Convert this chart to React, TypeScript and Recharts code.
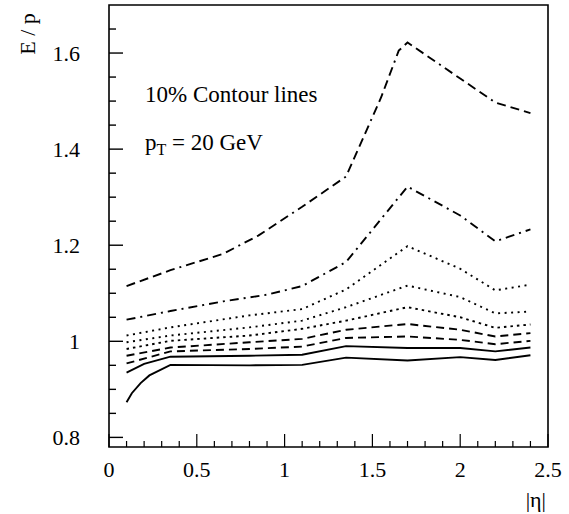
import React from "react";
import { LineChart, Line, XAxis, YAxis, ReferenceArea, Customized } from "recharts";

// ---- data ----
const eta1 = [0.1, 0.35, 0.65, 0.85, 1.1, 1.35, 1.55, 1.65, 1.7, 2.0, 2.2, 2.4];
const ep1 = [1.115, 1.148, 1.182, 1.22, 1.28, 1.343, 1.508, 1.605, 1.622, 1.547, 1.497, 1.475];

const eta2 = [0.1, 0.35, 0.65, 0.9, 1.1, 1.35, 1.7, 2.0, 2.2, 2.4];
const ep2 = [1.045, 1.063, 1.083, 1.097, 1.115, 1.165, 1.322, 1.262, 1.208, 1.233];

const etaMid = [0.1, 0.35, 0.8, 1.1, 1.35, 1.7, 2.0, 2.2, 2.4];
const ep3 = [1.012, 1.029, 1.054, 1.067, 1.108, 1.198, 1.151, 1.106, 1.118];
const ep4 = [0.998, 1.012, 1.029, 1.043, 1.071, 1.116, 1.092, 1.058, 1.062];
const ep5 = [0.984, 1.001, 1.012, 1.026, 1.043, 1.071, 1.05, 1.028, 1.035];
const ep6 = [0.97, 0.987, 0.998, 1.005, 1.024, 1.036, 1.024, 1.01, 1.017];
const ep7 = [0.954, 0.979, 0.984, 0.989, 1.007, 1.01, 1.003, 0.994, 1.001];

const eta8 = [0.1, 0.2, 0.35, 0.8, 1.1, 1.35, 1.7, 2.0, 2.2, 2.4];
const ep8 = [0.935, 0.953, 0.968, 0.97, 0.972, 0.99, 0.986, 0.986, 0.979, 0.987];

const eta9 = [0.1, 0.13, 0.18, 0.23, 0.35, 0.8, 1.1, 1.35, 1.7, 2.0, 2.2, 2.4];
const ep9 = [0.873, 0.892, 0.913, 0.929, 0.951, 0.95, 0.951, 0.966, 0.96, 0.967, 0.961, 0.971];

const xTicks = [0, 0.1, 0.2, 0.3, 0.4, 0.5, 0.6, 0.7, 0.8, 0.9, 1.0, 1.1, 1.2, 1.3, 1.4, 1.5, 1.6, 1.7, 1.8, 1.9, 2.0, 2.1, 2.2, 2.3, 2.4, 2.5];
const xMajor = [0, 0.5, 1, 1.5, 2, 2.5];
const xLabels = ["0", "0.5", "1", "1.5", "2", "2.5"];

const yTicks = [0.8, 0.85, 0.9, 0.95, 1.0, 1.05, 1.1, 1.15, 1.2, 1.25, 1.3, 1.35, 1.4, 1.45, 1.5, 1.55, 1.6, 1.65];
const yMajor = [0.8, 1.0, 1.2, 1.4, 1.6];
const yLabels = ["0.8", "1", "1.2", "1.4", "1.6"];

const zip = (xs: number[], ys: number[]) => xs.map((x, i) => ({ x, y: ys[i] }));

const series = [
  { name: "c1", data: zip(eta1, ep1), dash: "9 5 9 5 9 5 9 5 2 5" },
  { name: "c2", data: zip(eta2, ep2), dash: "9 5 2 5" },
  { name: "c3", data: zip(etaMid, ep3), dash: "2 4.5" },
  { name: "c4", data: zip(etaMid, ep4), dash: "2 4.5" },
  { name: "c5", data: zip(etaMid, ep5), dash: "2.5 4" },
  { name: "c6", data: zip(etaMid, ep6), dash: "8 5" },
  { name: "c7", data: zip(etaMid, ep7), dash: "8 5" },
  { name: "c8", data: zip(eta8, ep8), dash: undefined },
  { name: "c9", data: zip(eta9, ep9), dash: undefined },
];

const FONT = "'Liberation Serif', 'Times New Roman', serif";

const idxOf = (arr: number[], v: number) => arr.findIndex((m) => Math.abs(m - v) < 1e-6);

const YTick = (props: any) => {
  const { x, y, payload } = props;
  const i = idxOf(yMajor, payload.value);
  const major = i >= 0;
  return (
    <g>
      <line x1={x} x2={x + (major ? 14 : 7)} y1={y} y2={y} stroke="#000" strokeWidth={1.4} />
      {major && (
        <text x={x - 29} y={y + 7.5} textAnchor="end" fontFamily={FONT} fontSize={22} fill="#000">
          {yLabels[i]}
        </text>
      )}
    </g>
  );
};

const XTick = (props: any) => {
  const { x, y, payload } = props;
  const i = idxOf(xMajor, payload.value);
  const major = i >= 0;
  return (
    <g>
      <line x1={x} x2={x} y1={y} y2={y - (major ? 13 : 6)} stroke="#000" strokeWidth={1.2} />
      {major && (
        <text x={x} y={y + 30} textAnchor="middle" fontFamily={FONT} fontSize={22} fill="#000">
          {xLabels[i]}
        </text>
      )}
    </g>
  );
};

const Texts = () => (
  <g fontFamily={FONT} fill="#000">
    <text x={145} y={102} fontSize={23}>10% Contour lines</text>
    <text x={145} y={150} fontSize={23}>
      p<tspan fontSize={16} dy={5}>T</tspan>
      <tspan dy={-5}> = 20 GeV</tspan>
    </text>
    <text x={35} y={34} fontSize={22} textAnchor="middle" transform="rotate(-90 35 34)">E / p</text>
    <text x={546} y={507} fontSize={22} textAnchor="end">|η|</text>
  </g>
);

export default function App() {
  return (
    <div style={{ position: "absolute", left: 0, top: 0, width: 569, height: 514, background: "#fff" }}>
      <LineChart width={569} height={514} margin={{ top: 5, right: 21, bottom: 0, left: 0 }}>
        <XAxis
          type="number"
          dataKey="x"
          domain={[0, 2.5]}
          ticks={xTicks}
          interval={0}
          allowDataOverflow
          height={67}
          tickSize={0}
          tickMargin={0}
          tickLine={false}
          axisLine={false}
          tick={<XTick />}
        />
        <YAxis
          type="number"
          dataKey="y"
          domain={[0.78, 1.7]}
          ticks={yTicks}
          interval={0}
          allowDataOverflow
          width={109}
          tickSize={0}
          tickMargin={0}
          tickLine={false}
          axisLine={false}
          tick={<YTick />}
        />
        <ReferenceArea x1={0} x2={2.5} y1={0.78} y2={1.7} fill="none" fillOpacity={0} stroke="#000" strokeWidth={1.6} />
        {series.map((s) => (
          <Line
            key={s.name}
            data={s.data}
            dataKey="y"
            type="linear"
            stroke="#000"
            strokeWidth={1.9}
            strokeDasharray={s.dash}
            dot={false}
            activeDot={false}
            isAnimationActive={false}
          />
        ))}
        <Customized component={Texts} />
      </LineChart>
    </div>
  );
}
